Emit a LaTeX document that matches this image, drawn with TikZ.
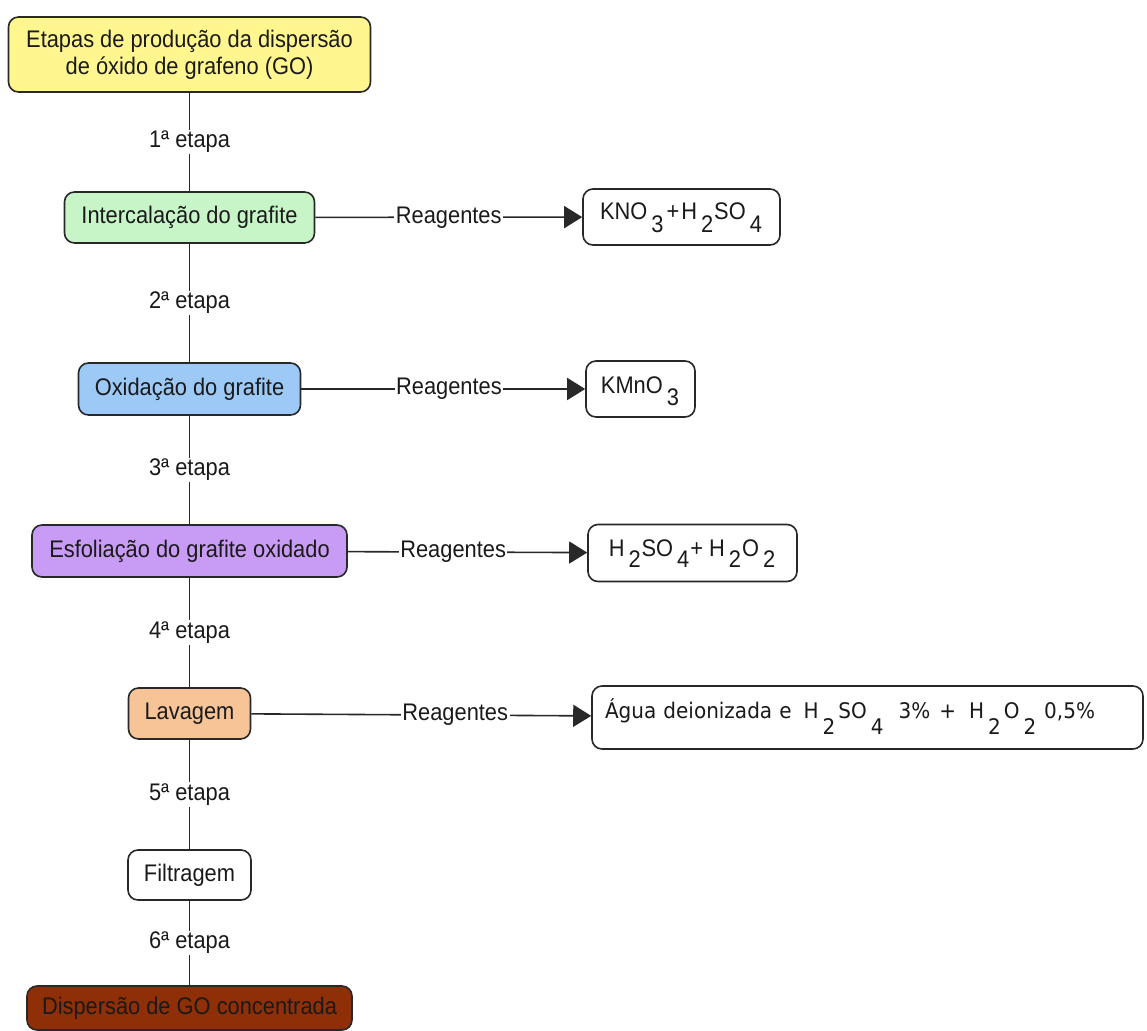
\documentclass[tikz,border=0pt]{standalone}
\usepackage{fontspec}
\setmainfont{Liberation Sans}[FakeStretch=0.91]
\newfontfamily\verdfont{DejaVu Sans}[FakeStretch=0.93]
\usetikzlibrary{arrows.meta}

\definecolor{ink}{RGB}{26,26,26}
\definecolor{edge}{RGB}{40,40,40}
\definecolor{titlefill}{RGB}{255,246,143}
\definecolor{greenfill}{RGB}{200,245,200}
\definecolor{bluefill}{RGB}{156,201,245}
\definecolor{purplefill}{RGB}{200,155,245}
\definecolor{peachfill}{RGB}{247,196,151}
\definecolor{brownfill}{RGB}{142,47,7}

% chemical index digit: full size, dropped below the baseline
\newcommand\lowd[2][12pt]{\hspace{4pt}\raisebox{-#1}{#2}\hspace{1pt}}
\newcommand\lowdv[1]{\hspace{4pt}\raisebox{-16pt}{#1}\hspace{3pt}}

\begin{document}
\begin{tikzpicture}[x=1pt,y=-1pt,
  box/.style={draw=edge, line width=1.6pt, rounded corners=10pt, inner sep=0pt,
    text=ink, font=\fontsize{24}{27}\selectfont, align=center},
  lbl/.style={fill=white, inner sep=1.5pt, text=ink, font=\fontsize{24}{27}\selectfont},
  conn/.style={draw=edge, line width=1.6pt},
  arr/.style={conn, -{Triangle[length=18pt,width=22pt]}}]
\useasboundingbox (0,0) rectangle (1147,1030);

% main sequence of stages
\node[box, fill=titlefill, minimum width=362pt, minimum height=75pt] (title) at (189.5,54.5)
  {Etapas de produção da dispersão\\de óxido de grafeno (GO)};
\node[box, fill=greenfill, minimum width=250pt, minimum height=51pt] (inter) at (189.5,217.5)
  {Intercalação do grafite};
\node[box, fill=bluefill, minimum width=222pt, minimum height=52pt] (oxid) at (189.5,389)
  {Oxidação do grafite};
\node[box, fill=purplefill, minimum width=315pt, minimum height=52pt] (esfol) at (189.5,551)
  {Esfoliação do grafite oxidado};
\node[box, fill=peachfill, minimum width=122pt, minimum height=51pt] (lav) at (189.5,713.5)
  {Lavagem};
\node[box, fill=white, minimum width=123pt, minimum height=50pt] (filt) at (189.5,875)
  {Filtragem};
\node[box, fill=brownfill, minimum width=325pt, minimum height=44pt] (disp) at (189.5,1008)
  {Dispersão de GO concentrada};

% reagent boxes
\node[box, fill=white, minimum width=197pt, minimum height=56pt,
  text height=16pt, text depth=12pt] (r1) at (681.5,217)
  {KNO\lowd[13pt]{3}\hspace{2pt}+\hspace{2pt}H\lowd[13pt]{2}SO\lowd[13pt]{4}};
\node[box, fill=white, minimum width=109pt, minimum height=56pt,
  text height=18pt, text depth=10pt] (r2) at (640.5,389)
  {KMnO\lowd{3}};
\node[box, fill=white, minimum width=209pt, minimum height=57pt,
  text height=17pt, text depth=10pt] (r3) at (692.5,553)
  {H\lowd[11pt]{2}SO\lowd[11pt]{4}+ H\lowd[11pt]{2}O\lowd[11pt]{2}};
\node[box, fill=white, text width=525pt, inner xsep=13pt, align=left, minimum height=63pt,
  text height=15pt, text depth=14pt,
  font=\verdfont\fontsize{21.5}{24}\selectfont] (r4) at (867.5,717.5)
  {Água deionizada e\hspace{12pt}H\lowdv{2}SO\lowdv{4}\hspace{12pt}3\%\hspace{9pt}+\hspace{13pt}H\lowdv{2}O\lowdv{2}\hspace{5pt}0,5\%};

% stage connectors
\draw[conn] (title) -- node[lbl]{1ª etapa} (inter);
\draw[conn] (inter) -- node[lbl]{2ª etapa} (oxid);
\draw[conn] (oxid) -- node[lbl]{3ª etapa} (esfol);
\draw[conn] (esfol) -- node[lbl]{4ª etapa} (lav);
\draw[conn] (lav) -- node[lbl]{5ª etapa} (filt);
\draw[conn] (filt) -- node[lbl]{6ª etapa} (disp);

% reagent connectors
\draw[arr] (inter) -- node[lbl, pos=0.5]{Reagentes} (r1);
\draw[arr] (oxid) -- node[lbl, pos=0.52]{Reagentes} (r2);
\draw[arr] (esfol) -- node[lbl, pos=0.44]{Reagentes} (r3);
\draw[arr] (lav) -- node[lbl, pos=0.6]{Reagentes} (r4);
\end{tikzpicture}
\end{document}
